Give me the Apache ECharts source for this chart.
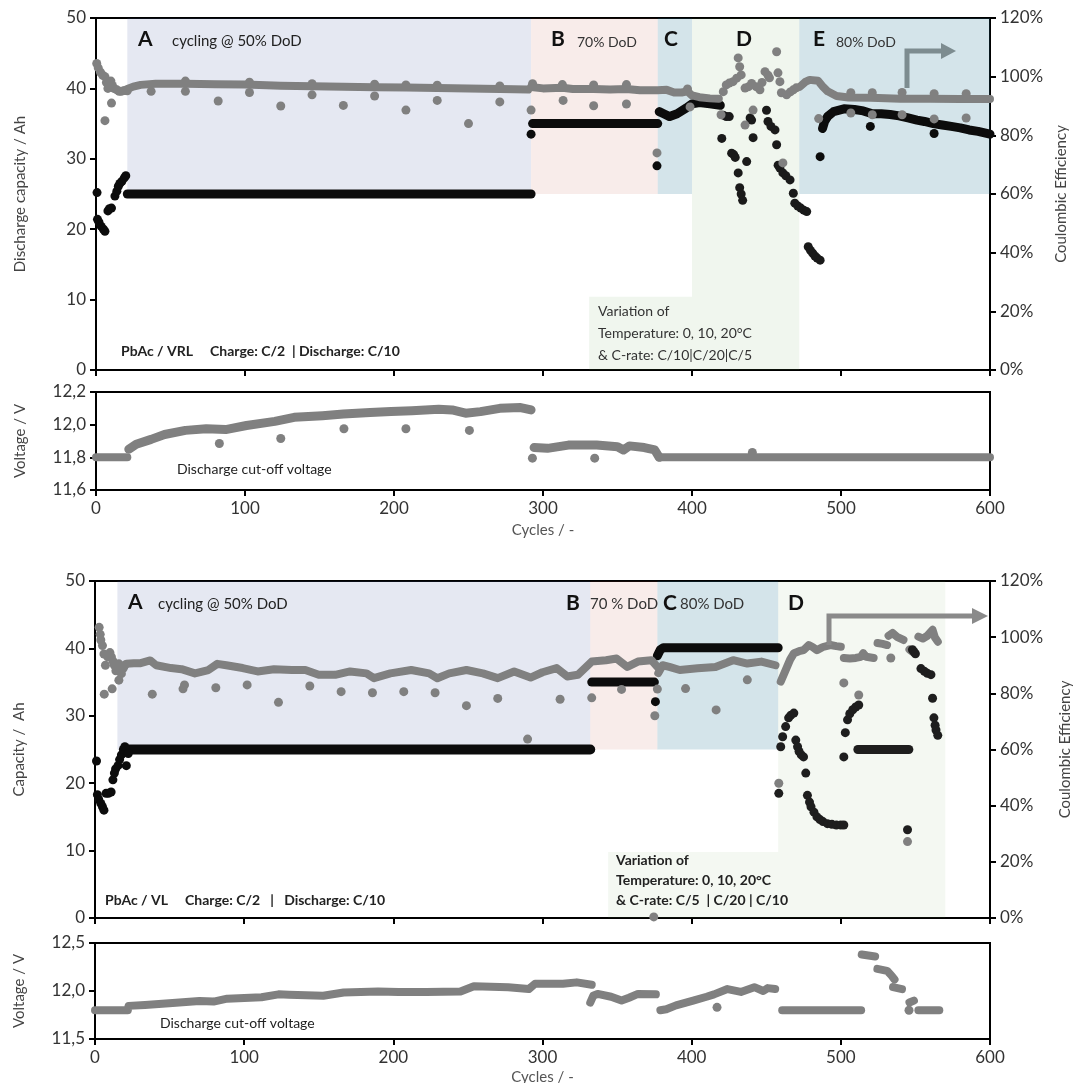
<!DOCTYPE html>
<html>
<head>
<meta charset="utf-8">
<script src="https://cdn.jsdelivr.net/npm/echarts@6/dist/echarts.min.js"></script>
<style>
  html, body { margin: 0; padding: 0; background: #fff; }
  #chart { width: 1076px; height: 1083px; }
</style>
</head>
<body>
<div id="chart"></div>
<script>
// ---- top panel: PbAc / VRL ----
// capacity in Ah, CE in %, voltage in V, x = cycle number
var vrlCapStart = [[0.7,25.2],[1,21.4],[2,21.0],[3.5,20.4],[5,20.0],[6,19.7],[8,22.6],[9,22.9],[10.4,23.0],[12.7,24.7],[14,25.4],[15,26.1],[16,26.5],[17.4,26.8],[19,27.3],[20,27.6]];
var vrlCapA = [[21,25],[292,25]];
var vrlCapB = [[293,35],[377,35]];
var vrlCapC = [[378,36.7],[381,36.4],[385,36.0],[390,36.4],[396,37.2],[400,37.8],[405,38.0],[412,37.8],[419,37.6]];
var vrlCapD = [[420,32.9],[421,36.2],[423,36.0],[425,36.0],[426.6,30.8],[428,30.6],[429,30.2],[431,28.0],[432,25.9],[433,25.0],[434,24.1],[436.7,29.6],[439,35.8],[440,35.5],[441,33.0],[450,36.9],[451,35.3],[453,34.6],[455.7,34.1],[456.8,32.0],[457.8,29.1],[459,28.7],[461,28.0],[463,27.6],[465.8,27.0],[468,25.1],[469,23.7],[471,23.3],[473,23.0],[475,22.7],[477,22.5],[478,17.5],[479.5,17.0],[481,16.6],[482.5,16.2],[484,15.9],[486,15.6]];
var vrlCapE = [[487.6,34.3],[489,35.3],[491,36.0],[495,36.7],[502,37.1],[509,37.0],[515,36.8],[521,36.4],[527,36.4],[533,36.3],[539,36.1],[545,35.8],[551,35.5],[556,35.3],[562,35.0],[568,34.8],[574,34.6],[580,34.4],[586,34.1],[592,33.9],[600,33.5]];
var vrlCapOut = [[292,33.5],[376.5,29.0],[486,30.3],[519.7,34.6],[562.5,33.6]];

var vrlCeStart = [[0.5,104.5],[1.5,103],[3,101.5],[4.5,100.5],[6,100],[7,98],[8,96],[9,97.5],[10,98.5],[11,97],[12,96],[14,95.5],[15.5,95],[17,95],[19,95.3],[21,95.2]];
var vrlCeA = [[21,95.8],[25,96.6],[30,97.2],[40,97.6],[60,97.6],[80,97.4],[100,97.3],[124,96.9],[145,96.7],[166,96.6],[187,96.4],[208,96.3],[229,96.1],[250,96.0],[271,95.8],[290,95.6]];
var vrlCeB = [[292,96.5],[300,96.0],[313,96.2],[320,95.8],[334,95.8],[345,95.6],[356,95.8],[365,95.4],[377,95.4],[383,95.5],[388,94.6],[393,94.6],[397,95.0],[400,93.6],[405,93.0],[412,92.6],[418,92.5]];
var vrlCeBumps = [[60,98.5],[103,98.1],[145,97.6],[187,97.4],[208,97.2],[229,97.1],[271,96.8],[293,97.6],[313,97.3],[334,97.2],[356,97.3],[397,95.8]];
var vrlCeD = [[421,94.9],[423,97.2],[425,97.8],[427.5,98.3],[430,99.5],[432,103.4],[431,106.4],[433,100.6],[435.6,96.1],[438,96.6],[440,97.7],[443,96.6],[445.6,95.5],[447,98],[449,101.7],[451,100.5],[452,99.6],[456.8,108.5],[457.7,101.3],[459,98.3],[460,94.5],[463.5,93.8],[466,94.8],[468,95.5],[470,96.2]];
var vrlCeE = [[472.5,96.6],[476,98.2],[479,98.9],[484.6,98.6],[488,96.5],[491,95.0],[497,93.4],[505,92.9],[520,92.8],[540,92.5],[560,92.5],[580,92.4],[600,92.4]];
var vrlCeEBumps = [[506.6,94.5],[521,94.5],[541,94.6],[562.5,94.2],[584,94.2]];
var vrlCeOut = [[6,85],[10.4,91],[37,95],[60,95],[82,91.7],[103,94.6],[124,90],[145,93.8],[166,90.2],[187,93.4],[208,88.6],[229,91.9],[250,84],[271,91.4],[292,88.6],[313.5,91.9],[334,90.1],[356,90.7],[376.5,74],[398.7,89.7],[419.5,87],[435.6,83.5],[441,88.6],[461,70.6],[485,85.7],[506.6,87.6],[521,87],[541,87],[562.5,85.6],[584,85.9]];

var vrlVoltStart = [[0,11.8],[21,11.8]];
var vrlVoltA = [[22,11.85],[27,11.88],[37,11.91],[46,11.94],[60,11.965],[74,11.975],[87,11.97],[101,11.995],[120,12.02],[133,12.045],[152,12.055],[166,12.065],[184,12.075],[198,12.08],[212,12.085],[230,12.095],[239,12.09],[248,12.07],[258,12.08],[271,12.1],[285,12.105],[292,12.09]];
var vrlVoltB = [[294,11.86],[303,11.855],[317,11.875],[336,11.875],[350,11.865],[354,11.845],[358,11.87],[368,11.86],[375,11.845],[378,11.8]];
var vrlVoltC = [[378,11.8],[600,11.8]];
var vrlVoltOut = [[82.8,11.885],[124,11.915],[166.4,11.975],[208,11.975],[250.6,11.965],[292.9,11.795],[334.7,11.795],[440.5,11.83]];

// phase regions [x0, y0, x1, y1] in cycles / Ah
var vrlPhases = [[21,25,292,50],[292,25,377,50],[377,25,400,50],[400,0,472,50],[472,25,600,50],[331,0,400,10.4]];

// ---- bottom panel: PbAc / VL ----
var vlCapStart = [[1,23.3],[1.6,18.3],[2.5,17.6],[3.9,17.0],[5,16.5],[6,16.0],[7.4,18.5],[9,18.5],[10.8,18.7],[12,20.5],[13,21.5],[13.8,22.1],[15.4,22.6],[16.5,23.5],[17.7,24.2],[19,25.0],[20,25.4],[21,22.6],[22.3,24.4]];
var vlCapA = [[21,25],[332,25]];
var vlCapB = [[333,35],[375,35]];
var vlCapC = [[377,38.9],[379,39.8],[381,40.1],[458,40.1]];
var vlCapD25 = [[511.4,25],[545.6,25]];
var vlCapD = [[458.4,18.5],[459.7,25.4],[461,26.9],[463,28.4],[465,29.7],[466.5,30.1],[468.5,30.4],
  [469.8,26.4],[471,25.4],[472,24.7],[473.5,24.2],[475,23.9],[476.5,21.5],
  [477.6,18.2],[479,17.2],[480,16.5],[482,15.7],[484,15.0],[486,14.6],[488,14.3],[491,14.0],[494,13.9],[497,13.8],[500,13.8],[502,13.8],
  [502,23.9],[503,27.5],[504.5,29.4],[506,30.3],[508,30.9],[510,31.3],[512,31.6],
  [544.7,13.1],[548,39.8],[549,39.5],[550,39.2],[553.7,37.0],[556,36.6],[558,36.3],[560.4,36.1],
  [561.5,32.6],[562.4,29.7],[563.2,28.6],[563.8,27.9],[565,27.1]];
var vlCapOut = [[375.7,32.1]];

var vlCeStart = [[2.8,103.5],[3.5,101],[3.9,99],[5,97],[6,94],[7,90],[8.5,93],[10,94.5],[11,93],[12,91.5],[13,90],[14,88],[15,89],[16,90.5],[17.7,87],[19,89],[20,90]];
var vlCeA = [[21,90.5],[26,90.7],[30,90.7],[37,91.7],[41,90.0],[51,89.0],[58,88.6],[67,87.1],[76,88.3],[82,90.5],[88,90.0],[99,89.0],[109,87.8],[120,88.6],[132,88.3],[141,88.3],[150,86.6],[161,86.6],[171,87.8],[182,87.1],[187,85.4],[198,87.1],[212,88.3],[224,87.1],[229.5,85.4],[237.5,87.1],[249,88.3],[260,87.1],[270,85.4],[281,87.8],[292,85.6],[300,87.5],[309.5,89.0],[316.6,86.0],[323.7,86.6],[333,91.3],[342.6,91.8],[349.7,92.4],[356.8,89.4],[364,91.3],[373,91.8],[377,89.4]];
var vlCeC = [[377.6,87.2],[380.5,90.0],[385,89.4],[392,88.3],[404,88.9],[416,89.4],[427.8,91.8],[437.3,90.6],[446.7,91.3],[456.2,90.0]];
var vlCeD1 = [[459.7,84.2],[462,87],[464,89.5],[466,92],[468.6,94.3],[472,95],[475,95.4],[478.5,97.2],[481,96.5],[484,95.4],[488,96.5],[493,97.2],[497,96.8],[500,96.6]];
var vlCeD2 = [[502,92.6],[506,92.4],[510,92.6],[513.4,93.0],[515,94.3],[517,93],[522,92.6]];
var vlCeD3 = [[524.6,97.9],[528,97.6],[531,97.2]];
var vlCeD4 = [[532,100.5],[534.7,101.5],[538,100],[542,99.0]];
var vlCeD5 = [[546,95.6],[548,94.8]];
var vlCeD6 = [[552,100.2],[555,99.5],[558,100.5],[561.5,102.6],[563,100],[565,98.4]];
var vlCeOut = [[6.2,79.7],[11.5,81.6],[16,84.7],[38.4,79.7],[59,81.6],[60,83.0],[81,82.0],[102,83.0],[123,76.8],[144,82.6],[165,80.6],[186,80.2],[207,80.6],[228,80.2],[249,75.6],[270,78.2],[290,63.7],[311.8,77.9],[333,78.4],[353,81.4],[374.6,0.4],[375.3,72.0],[377,81.5],[395.9,81.7],[416.4,74.1],[437.3,84.8],[458.4,48.0],[502,83.7],[512,79.4],[533.5,92.6],[544.7,27.2]];

var vlVoltA = [[0,11.8],[22,11.8],[22.5,11.845],[33.5,11.855],[52,11.875],[70,11.895],[79.5,11.89],[88.6,11.92],[111.6,11.935],[123,11.965],[130,11.96],[153,11.95],[166.7,11.985],[189.7,11.995],[203.5,11.99],[222,11.99],[245,11.995],[254,12.05],[277,12.04],[290.8,12.02],[295,12.075],[313.7,12.075],[323,12.09],[333,12.065]];
var vlVoltB = [[332,11.88],[334,11.95],[337,11.97],[346,11.94],[353,11.9],[358,11.93],[364,11.97],[376,11.965]];
var vlVoltC = [[379,11.8],[383,11.81],[389.5,11.85],[401,11.9],[410,11.94],[415,11.965],[424,12.02],[433,11.99],[442,12.04],[448,12.0],[451,12.03],[456,12.02]];
var vlVoltD = [[460.7,11.8],[513.6,11.8]];
var vlVoltD2 = [[514,12.38],[523,12.36]];
var vlVoltD3 = [[524.5,12.23],[531,12.21],[534,12.16],[536,12.12]];
var vlVoltD4 = [[535,12.04],[541,12.02]];
var vlVoltD5 = [[546,11.88],[549,11.9]];
var vlVoltD6 = [[552,11.8],[566,11.8]];
var vlVoltOut = [[417,11.83],[545.7,11.8]];

var vlPhases = [[15,25,332,50],[332,25,377,50],[377,25,458,50],[458,0,570,50],[344,0,458,9.8]];

var phaseColorsTop = ["rgba(70,90,160,0.14)", "rgba(190,80,60,0.11)", "rgba(40,120,150,0.2)", "rgba(110,170,90,0.1)", "rgba(40,120,150,0.2)", "rgba(110,170,90,0.1)"];
var phaseColorsBot = ["rgba(70,90,160,0.14)", "rgba(190,80,60,0.11)", "rgba(40,120,150,0.2)", "rgba(110,170,90,0.08)", "rgba(110,170,90,0.08)"];

var fontMain = "Lato, 'Open Sans', sans-serif";
var BLACK = "#0c0c0c";
var GREY = "#808080";

function trace(data, color, xi, yi, w) {
    return {
        type: "line", data: data, xAxisIndex: xi, yAxisIndex: yi,
        symbol: "none", silent: true, z: 2,
        lineStyle: { color: color, width: w || 8, cap: "round", join: "round" },
    };
}
function dots(data, color, xi, yi, size) {
    return {
        type: "scatter", data: data, xAxisIndex: xi, yAxisIndex: yi,
        symbolSize: size || 9, silent: true, z: 3,
        itemStyle: { color: color, opacity: 1 },
    };
}
function phases(list, colors, xi, yi) {
    return {
        type: "line", data: [], xAxisIndex: xi, yAxisIndex: yi, z: 6, silent: true,
        markArea: {
            silent: true,
            data: list.map(function (p, i) {
                return [
                    { coord: [p[0], p[1]], itemStyle: { color: colors[i] } },
                    { coord: [p[2], p[3]] },
                ];
            }),
        },
    };
}
function xAx(grid, labels, gap) {
    return {
        type: "value", gridIndex: grid, min: 0, max: 600, interval: 100,
        axisLine: { show: true, onZero: false, lineStyle: { color: "#000", width: 2 } },
        axisTick: { show: true, length: 6, lineStyle: { color: "#000", width: 2 } },
        axisLabel: { show: labels, fontFamily: fontMain, fontSize: 17, color: "#333", margin: 10 },
        splitLine: { show: false },
        name: labels ? "Cycles / -" : "",
        nameLocation: "middle", nameGap: gap || 34,
        nameTextStyle: { fontFamily: fontMain, fontSize: 15, color: "#555" },
    };
}
function yAx(grid, pos, min, max, interval, name, fmt, gap) {
    return {
        type: "value", gridIndex: grid, position: pos, min: min, max: max, interval: interval,
        axisLine: { show: true, lineStyle: { color: "#000", width: 2 } },
        axisTick: { show: true, length: 6, lineStyle: { color: "#000", width: 2 } },
        axisLabel: { fontFamily: fontMain, fontSize: 17, color: "#333", margin: 10, formatter: fmt },
        splitLine: { show: false },
        name: name, nameLocation: "middle", nameGap: gap,
        nameTextStyle: { fontFamily: fontMain, fontSize: 15, color: "#444" },
    };
}
function comma(v) { return v.toFixed(1).replace(".", ","); }
function pct(v) { return v + "%"; }

function txt(x, y, s, font, color) {
    return { type: "text", left: x, top: y, z: 100, style: { text: s, font: font, fill: color || "#222" } };
}

var chart = echarts.init(document.getElementById("chart"), null, { renderer: "canvas" });
var gridBase = { show: true, borderColor: "#000", borderWidth: 2, backgroundColor: "transparent", outerBoundsMode: "none" };

chart.setOption({
    animation: false,
    grid: [
        Object.assign({ left: 96, right: 86, top: 18, height: 352 }, gridBase),
        Object.assign({ left: 96, right: 86, top: 392, height: 98 }, gridBase),
        Object.assign({ left: 95, right: 86, top: 581, height: 337 }, gridBase),
        Object.assign({ left: 95, right: 86, top: 943, height: 96 }, gridBase),
    ],
    xAxis: [xAx(0, false), xAx(1, true, 33), xAx(2, false), xAx(3, true, 31)],
    yAxis: [
        yAx(0, "left", 0, 50, 10, "Discharge capacity / Ah", null, 68),
        yAx(0, "right", 0, 120, 20, "Coulombic Efficiency", pct, 62),
        yAx(1, "left", 11.6, 12.2, 0.2, "Voltage / V", comma, 68),
        yAx(2, "left", 0, 50, 10, "Capacity /  Ah", null, 68),
        yAx(2, "right", 0, 120, 20, "Coulombic Efficiency", pct, 68),
        yAx(3, "left", 11.5, 12.5, 0.5, "Voltage / V", comma, 68),
    ],
    series: [
        phases(vrlPhases, phaseColorsTop, 0, 0),
        dots(vrlCapStart, BLACK, 0, 0),
        trace(vrlCapA, BLACK, 0, 0, 9),
        trace(vrlCapB, BLACK, 0, 0, 9),
        trace(vrlCapC, BLACK, 0, 0, 9),
        dots(vrlCapD, "#1a1a1a", 0, 0),
        trace(vrlCapE, BLACK, 0, 0, 9),
        dots(vrlCapOut, BLACK, 0, 0),
        dots(vrlCeStart, GREY, 0, 1),
        trace(vrlCeA, GREY, 0, 1, 8),
        trace(vrlCeB, GREY, 0, 1, 8),
        dots(vrlCeBumps, GREY, 0, 1),
        dots(vrlCeD, GREY, 0, 1),
        trace(vrlCeE, GREY, 0, 1, 8),
        dots(vrlCeEBumps, GREY, 0, 1),
        dots(vrlCeOut, GREY, 0, 1),
        trace(vrlVoltStart, GREY, 1, 2, 8),
        trace(vrlVoltA, GREY, 1, 2, 9),
        trace(vrlVoltB, GREY, 1, 2, 9),
        trace(vrlVoltC, GREY, 1, 2, 8),
        dots(vrlVoltOut, GREY, 1, 2),

        phases(vlPhases, phaseColorsBot, 2, 3),
        dots(vlCapStart, BLACK, 2, 3),
        trace(vlCapA, BLACK, 2, 3, 10),
        trace(vlCapB, BLACK, 2, 3, 9),
        trace(vlCapC, BLACK, 2, 3, 9),
        trace(vlCapD25, "#1e1e1e", 2, 3, 9),
        dots(vlCapD, "#1e1e1e", 2, 3),
        dots(vlCapOut, BLACK, 2, 3),
        dots(vlCeStart, GREY, 2, 4),
        trace(vlCeA, GREY, 2, 4, 8),
        trace(vlCeC, GREY, 2, 4, 8),
        trace(vlCeD1, GREY, 2, 4, 8),
        trace(vlCeD2, GREY, 2, 4, 8),
        trace(vlCeD3, GREY, 2, 4, 8),
        trace(vlCeD4, GREY, 2, 4, 8),
        trace(vlCeD5, GREY, 2, 4, 8),
        trace(vlCeD6, GREY, 2, 4, 8),
        dots(vlCeOut, GREY, 2, 4),
        trace(vlVoltA, GREY, 3, 5, 8),
        trace(vlVoltB, GREY, 3, 5, 8),
        trace(vlVoltC, GREY, 3, 5, 8),
        trace(vlVoltD, GREY, 3, 5, 8),
        trace(vlVoltD2, GREY, 3, 5, 8),
        trace(vlVoltD3, GREY, 3, 5, 8),
        trace(vlVoltD4, GREY, 3, 5, 8),
        trace(vlVoltD5, GREY, 3, 5, 8),
        trace(vlVoltD6, GREY, 3, 5, 8),
        dots(vlVoltOut, GREY, 3, 5),
    ],
    graphic: [
        // top panel labels
        txt(138, 29, "A", "bold 21px " + fontMain, "#111"),
        txt(172, 34, "cycling @ 50% DoD", "15px " + fontMain),
        txt(551, 29, "B", "bold 21px " + fontMain, "#111"),
        txt(577, 35, "70% DoD", "14px " + fontMain, "#333"),
        txt(664, 29, "C", "bold 21px " + fontMain, "#111"),
        txt(736, 29, "D", "bold 21px " + fontMain, "#111"),
        txt(813, 29, "E", "bold 21px " + fontMain, "#111"),
        txt(836, 35, "80% DoD", "14px " + fontMain, "#333"),
        txt(121, 344, "PbAc / VRL     Charge: C/2  | Discharge: C/10", "bold 14px " + fontMain),
        txt(598, 304, "Variation of", "14px " + fontMain, "#333"),
        txt(598, 326, "Temperature: 0, 10, 20°C", "14px " + fontMain, "#333"),
        txt(598, 348, "& C-rate: C/10|C/20|C/5", "14px " + fontMain, "#333"),
        txt(177, 462, "Discharge cut-off voltage", "14px " + fontMain),
        // bottom panel labels
        txt(128, 592, "A", "bold 21px " + fontMain, "#111"),
        txt(158, 597, "cycling @ 50% DoD", "15px " + fontMain),
        txt(566, 593, "B", "bold 21px " + fontMain, "#111"),
        txt(590, 597, "70 % DoD", "15px " + fontMain, "#333"),
        txt(663, 593, "C", "bold 21px " + fontMain, "#111"),
        txt(680, 597, "80% DoD", "15px " + fontMain, "#333"),
        txt(788, 593, "D", "bold 21px " + fontMain, "#111"),
        txt(105, 893, "PbAc / VL     Charge: C/2   |   Discharge: C/10", "bold 14px " + fontMain),
        txt(616, 853, "Variation of", "bold 14px " + fontMain),
        txt(616, 873, "Temperature: 0, 10, 20°C", "bold 14px " + fontMain),
        txt(616, 893, "& C-rate: C/5  | C/20 | C/10", "bold 14px " + fontMain),
        txt(160, 1016, "Discharge cut-off voltage", "14px " + fontMain),
        // arrows pointing at the right axis
        { type: "polyline", z: 100, shape: { points: [[907, 88], [907, 51], [944, 51]] }, style: { stroke: "#7d8c90", lineWidth: 5, fill: null } },
        { type: "polygon", z: 100, shape: { points: [[941, 43], [956, 51], [941, 59]] }, style: { fill: "#7d8c90" } },
        { type: "polyline", z: 100, shape: { points: [[829, 645], [829, 616], [975, 616]] }, style: { stroke: "#8a8a8a", lineWidth: 5, fill: null } },
        { type: "polygon", z: 100, shape: { points: [[972, 608], [988, 616], [972, 624]] }, style: { fill: "#8a8a8a" } },
    ],
});
</script>
</body>
</html>
